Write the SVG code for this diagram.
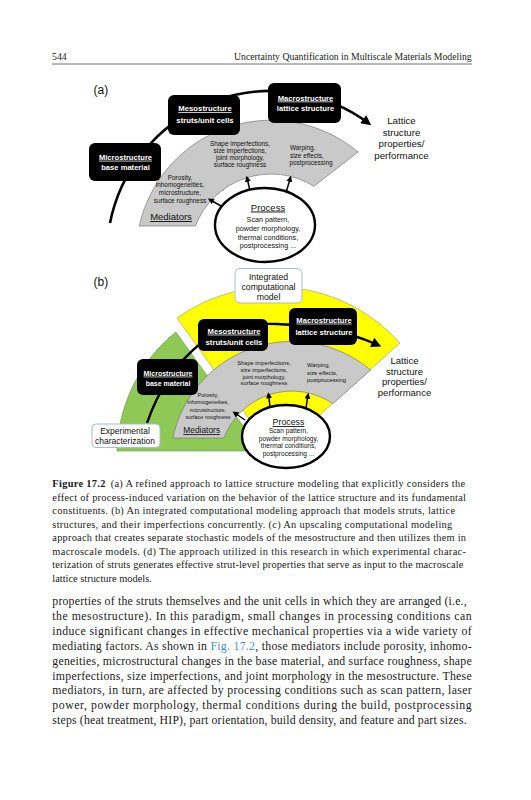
<svg xmlns="http://www.w3.org/2000/svg" width="531" height="800" viewBox="0 0 531 800">
<style>
.serif{font-family:"Liberation Serif","Times New Roman",serif;fill:#1a1a1a}
.sans{font-family:"Liberation Sans",Arial,sans-serif;fill:#111}
.mid{text-anchor:middle}
.bx{fill:#000}
.bt{font-family:"Liberation Sans",Arial,sans-serif;font-weight:bold;fill:#fff;text-anchor:middle}
.u{text-decoration:underline}
.gray{fill:#c9c9c9;stroke:#7a7a7a;stroke-width:0.7}
.yel{fill:#ffff00;stroke:#9a9a60;stroke-width:0.6}
.grn{fill:#8fc955;stroke:#6f8f55;stroke-width:0.6}
.ell{fill:#fff;stroke:#000;stroke-width:2.4}
.big{fill:none;stroke:#000;stroke-width:2.6}
.arr{fill:none;stroke:#000;stroke-width:1.5}
.lb{fill:#fff;stroke:#a9bccf;stroke-width:1}
</style>
<defs>
<marker id="bigHead" viewBox="0 0 10 10" refX="6.4" refY="5" markerWidth="11" markerHeight="10" markerUnits="userSpaceOnUse" orient="auto"><path d="M0,0 L10,5 L0,10 z" fill="#000"/></marker>
<marker id="smHead" viewBox="0 0 10 10" refX="7" refY="5" markerWidth="6.5" markerHeight="6" markerUnits="userSpaceOnUse" orient="auto"><path d="M0,0 L10,5 L0,10 z" fill="#000"/></marker>
</defs>

<g id="header">
<text class="serif" x="52" y="59.5" font-size="9.8">544</text>
<text class="serif" x="471.7" y="59.5" font-size="9.8" text-anchor="end" textLength="237.7" lengthAdjust="spacingAndGlyphs">Uncertainty Quantification in Multiscale Materials Modeling</text>
<line x1="52" y1="64" x2="472" y2="64" stroke="#333" stroke-width="0.7"/>
</g>

<!-- ===== Panel (a) ===== -->
<g id="panel-a">
<text class="sans" x="93.5" y="94" font-size="12">(a)</text>
<g id="a-mediators">
<path class="gray" d="M139.2,226 A135,135 0 0 1 358,152 L313.9,186.3 A81,81 0 0 0 195.4,226 Z"/>
<text class="sans mid" font-size="6.4"><tspan x="240" y="146.2">Shape imperfections,</tspan><tspan x="240" y="153.2">size imperfections,</tspan><tspan x="240" y="160.2">joint morphology,</tspan><tspan x="240" y="167.2">surface roughness</tspan></text>
<text class="sans" font-size="6.4"><tspan x="290" y="150">Warping,</tspan><tspan x="290" y="157.5">size effects,</tspan><tspan x="289.5" y="165">postprocessing</tspan></text>
<text class="sans mid" font-size="6.4"><tspan x="180" y="179.5">Porosity,</tspan><tspan x="180" y="187.3">inhomogeneities,</tspan><tspan x="180" y="195.1">microstructure,</tspan><tspan x="180" y="202.9">surface roughness</tspan></text>
<text class="sans mid u" x="171" y="220" font-size="9.5">Mediators</text>
</g>
<g id="a-connectors">
<path class="big" d="M110,223 A164,164 0 0 1 368.4,123.1" marker-end="url(#bigHead)"/>
<line class="arr" x1="221" y1="206" x2="209.5" y2="199.5" marker-end="url(#smHead)"/>
<line class="arr" x1="250" y1="191" x2="247" y2="177.5" marker-end="url(#smHead)"/>
<line class="arr" x1="286.5" y1="191" x2="290.5" y2="177.5" marker-end="url(#smHead)"/>
</g>
<g id="a-micro">
<rect class="bx" x="89" y="143" width="72" height="38" rx="6"/>
<text class="bt u" x="125.5" y="159.7" font-size="7.6">Microstructure</text>
<text class="bt" x="125.5" y="169.7" font-size="7.6">base material</text>
</g>
<g id="a-meso">
<rect class="bx" x="168" y="95" width="72" height="40" rx="6"/>
<text class="bt u" x="205" y="111" font-size="7.75">Mesostructure</text>
<text class="bt" x="205" y="122.7" font-size="7.75">struts/unit cells</text>
</g>
<g id="a-macro">
<rect class="bx" x="268" y="83" width="73" height="40" rx="6"/>
<text class="bt u" x="305.5" y="100.5" font-size="7.65">Macrostructure</text>
<text class="bt" x="305.5" y="111.3" font-size="7.65">lattice structure</text>
</g>
<g id="a-process">
<ellipse class="ell" cx="265" cy="225" rx="50" ry="37"/>
<text class="sans mid u" x="268" y="210.5" font-size="9.5">Process</text>
<text class="sans mid" font-size="7.2"><tspan x="268" y="222">Scan pattern,</tspan><tspan x="268" y="230.8">powder morphology,</tspan><tspan x="268" y="239.6">thermal conditions,</tspan><tspan x="268" y="248.4">postprocessing ...</tspan></text>
</g>
<g id="a-lattice">
<text class="sans mid" font-size="9.7"><tspan x="401.5" y="124">Lattice</tspan><tspan x="401.5" y="135.7">structure</tspan><tspan x="401.5" y="147.4">properties/</tspan><tspan x="401.5" y="159.1">performance</tspan></text>
</g>
</g>

<!-- ===== Panel (b) ===== -->
<g id="panel-b">
<text class="sans" x="93.5" y="286" font-size="12">(b)</text>
<g id="b-sectors">
<path class="yel" d="M275,455 L177,318 A168,168 0 0 1 400,343 Z"/>
<path class="grn" d="M261,451 L117,451 A158,158 0 0 1 175.9,331.9 Z"/>
</g>
<g id="b-mediators">
<path class="gray" d="M172.8,438 A122,122 0 0 1 370.6,370 L332.9,403.6 A73,73 0 0 0 223.8,438 Z"/>
<text class="sans mid" font-size="5.7"><tspan x="264" y="365">Shape imperfections,</tspan><tspan x="264" y="371.8">size imperfections,</tspan><tspan x="264" y="378.6">joint morphology,</tspan><tspan x="264" y="385.4">surface roughness</tspan></text>
<text class="sans" font-size="5.8"><tspan x="307" y="367">Warping,</tspan><tspan x="307" y="374.6">size effects,</tspan><tspan x="307" y="382.2">postprocessing</tspan></text>
<text class="sans mid" font-size="5.5"><tspan x="208" y="397">Porosity,</tspan><tspan x="208" y="404.4">inhomogeneities,</tspan><tspan x="208" y="411.8">microstructure,</tspan><tspan x="208" y="419.2">surface roughness</tspan></text>
<text class="sans mid u" x="201.7" y="433.2" font-size="8.4">Mediators</text>
</g>
<g id="b-connectors">
<path class="big" style="stroke-width:2.3" d="M147,423 C155,400 170,368 200,344 C225,326 255,323 277,324 C305,325 340,328 378,345" marker-end="url(#bigHead)"/>
<line class="arr" x1="245" y1="420" x2="234" y2="412.5" marker-end="url(#smHead)"/>
<line class="arr" x1="270" y1="407" x2="268.5" y2="394" marker-end="url(#smHead)"/>
<line class="arr" x1="306" y1="408" x2="308" y2="394.5" marker-end="url(#smHead)"/>
</g>
<g id="b-integrated">
<rect class="lb" x="235" y="268.5" width="67" height="34.5" rx="5"/>
<text class="sans mid" font-size="8.7"><tspan x="268.5" y="280.3">Integrated</tspan><tspan x="268.5" y="290.1">computational</tspan><tspan x="268.5" y="299.9">model</tspan></text>
</g>
<g id="b-micro">
<rect class="bx" x="137" y="359" width="61" height="36" rx="6"/>
<text class="bt u" x="168" y="375.6" font-size="7.0">Microstructure</text>
<text class="bt" x="168" y="385.6" font-size="7.0">base material</text>
</g>
<g id="b-meso">
<rect class="bx" x="198" y="319" width="70" height="32" rx="6"/>
<text class="bt u" x="234" y="333.6" font-size="7.7">Mesostructure</text>
<text class="bt" x="234" y="344.6" font-size="7.7">struts/unit cells</text>
</g>
<g id="b-macro">
<rect class="bx" x="289" y="308" width="68" height="37" rx="6"/>
<text class="bt u" x="324" y="322.6" font-size="7.6">Macrostructure</text>
<text class="bt" x="324" y="334.6" font-size="7.6">lattice structure</text>
</g>
<g id="b-process">
<ellipse class="ell" cx="286" cy="436.5" rx="44" ry="31.5"/>
<text class="sans mid u" x="288.5" y="425" font-size="8.8">Process</text>
<text class="sans mid" font-size="6.6"><tspan x="288.5" y="433.3">Scan pattern,</tspan><tspan x="288.5" y="440.8">powder morphology,</tspan><tspan x="288.5" y="448.3">thermal conditions,</tspan><tspan x="288.5" y="455.8">postprocessing ...</tspan></text>
</g>
<g id="b-experimental">
<rect class="lb" x="92" y="424" width="68" height="23.5" rx="4"/>
<text class="sans mid" font-size="8.5"><tspan x="125" y="433.8">Experimental</tspan><tspan x="125" y="443.9">characterization</tspan></text>
</g>
<g id="b-lattice">
<text class="sans mid" font-size="9.5"><tspan x="404.5" y="363.5">Lattice</tspan><tspan x="404.5" y="374.5">structure</tspan><tspan x="404.5" y="385.3">properties/</tspan><tspan x="404.5" y="396">performance</tspan></text>
</g>
</g>

<g id="caption" class="serif" font-size="10.4">
<text x="52.3" y="487" textLength="412.7" lengthAdjust="spacing"><tspan font-weight="bold">Figure 17.2</tspan><tspan dx="5">(a) A refined approach to lattice structure modeling that explicitly considers the</tspan></text>
<text x="52.3" y="500.5" textLength="413.7" lengthAdjust="spacing">effect of process-induced variation on the behavior of the lattice structure and its fundamental</text>
<text x="52.3" y="514" textLength="402.7" lengthAdjust="spacing">constituents. (b) An integrated computational modeling approach that models struts, lattice</text>
<text x="52.3" y="527.5" textLength="400" lengthAdjust="spacing">structures, and their imperfections concurrently. (c) An upscaling computational modeling</text>
<text x="52.3" y="541" textLength="413.7" lengthAdjust="spacing">approach that creates separate stochastic models of the mesostructure and then utilizes them in</text>
<text x="52.3" y="554.5" textLength="413.7" lengthAdjust="spacing">macroscale models. (d) The approach utilized in this research in which experimental charac-</text>
<text x="52.3" y="568" textLength="411" lengthAdjust="spacing">terization of struts generates effective strut-level properties that serve as input to the macroscale</text>
<text x="52.3" y="581.5">lattice structure models.</text>
</g>

<g id="body" class="serif" font-size="11.8">
<text x="52.3" y="605.3" textLength="414.4" lengthAdjust="spacing">properties of the struts themselves and the unit cells in which they are arranged (i.e.,</text>
<text x="52.3" y="620.15" textLength="419.4" lengthAdjust="spacing">the mesostructure). In this paradigm, small changes in processing conditions can</text>
<text x="52.3" y="635" textLength="419.4" lengthAdjust="spacing">induce significant changes in effective mechanical properties via a wide variety of</text>
<text x="52.3" y="649.85" textLength="419.4" lengthAdjust="spacing">mediating factors. As shown in <tspan fill="#3d8fd1">Fig. 17.2</tspan>, those mediators include porosity, inhomo-</text>
<text x="52.3" y="664.7" textLength="419.4" lengthAdjust="spacing">geneities, microstructural changes in the base material, and surface roughness, shape</text>
<text x="52.3" y="679.55" textLength="419.4" lengthAdjust="spacing">imperfections, size imperfections, and joint morphology in the mesostructure. These</text>
<text x="52.3" y="694.4" textLength="419.4" lengthAdjust="spacing">mediators, in turn, are affected by processing conditions such as scan pattern, laser</text>
<text x="52.3" y="709.25" textLength="419.4" lengthAdjust="spacing">power, powder morphology, thermal conditions during the build, postprocessing</text>
<text x="52.3" y="724.1" textLength="414.4" lengthAdjust="spacing">steps (heat treatment, HIP), part orientation, build density, and feature and part sizes.</text>
</g>
</svg>
